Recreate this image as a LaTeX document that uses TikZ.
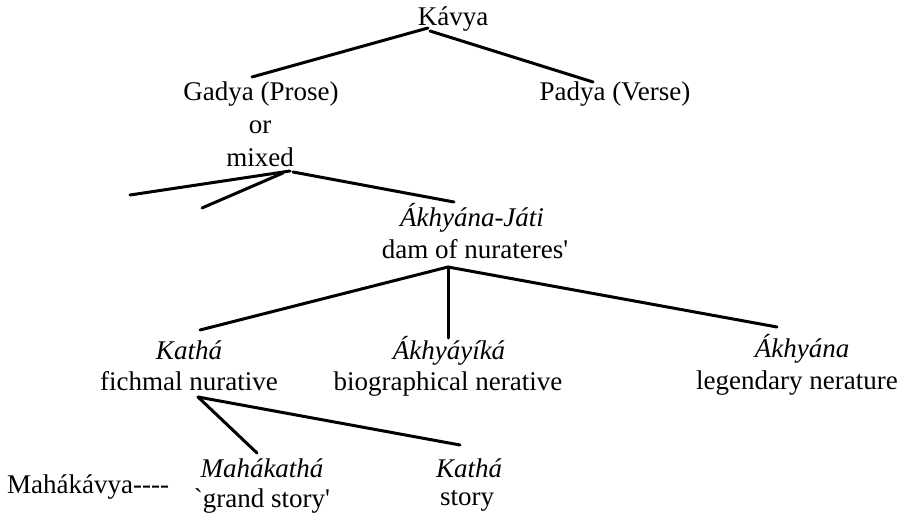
\documentclass[tikz,border=0pt]{standalone}
\usepackage{fontspec}
\setmainfont{Liberation Serif}
\begin{document}
\begin{tikzpicture}[x=1pt,y=-1pt,
  lbl/.style={inner sep=0pt,anchor=base,font=\fontsize{27}{31}\selectfont},
  branch/.style={line width=3pt,line cap=round}]
\useasboundingbox (0,0) rectangle (910,516);
\fill[white] (0,0) rectangle (910,516);
% nodes
\node[lbl] (kavya) at (453,26) {Kávya};
\node[lbl] (gadya) at (261,101) {Gadya (Prose)};
\node[lbl] (gor) at (260,134) {or};
\node[lbl] (gmixed) at (260,166) {mixed};
\node[lbl] (padya) at (615,101) {Padya (Verse)};
\node[lbl] (akhj) at (472,226) {\textit{Ákhyána-Játi}};
\node[lbl] (akhjd) at (475,258) {dam of nurateres\textquotesingle};
\node[lbl] (katha) at (189,359) {\textit{Kathá}};
\node[lbl] (kathad) at (189,390) {fichmal nurative};
\node[lbl] (akhy) at (449,359) {\textit{Ákhyáyíká}};
\node[lbl] (akhyd) at (448,390) {biographical nerative};
\node[lbl] (akhyana) at (802,357) {\textit{Ákhyána}};
\node[lbl] (akhyanad) at (797,389) {legendary nerature};
\node[lbl,anchor=base west] (mahak) at (7,493) {Mahákávya{-}{-}{-}{-}};
\node[lbl] (mahakatha) at (262,477) {\textit{Mahákathá}};
\node[lbl] (grand) at (262,507) {\textasciigrave grand story\textquotesingle};
\node[lbl] (kathas) at (469,477) {\textit{Kathá}};
\node[lbl] (story) at (467,505) {story};
% free ends
\coordinate (free1) at (130,195);
\coordinate (free2) at (202,208);
% connectors
\draw[branch] ([shift={(-25,2)}]kavya.base) -- ([shift={(-9,-24)}]gadya.base);
\draw[branch] ([shift={(-23,5)}]kavya.base) -- ([shift={(-22,-19)}]padya.base);
\draw[branch] ([shift={(30,5)}]gmixed.base) -- (free1);
\draw[branch] ([shift={(23,7)}]gmixed.base) -- (free2);
\draw[branch] ([shift={(33,6)}]gmixed.base) -- ([shift={(-18,-24)}]akhj.base);
\draw[branch] ([shift={(-27,9)}]akhjd.base) -- ([shift={(11,-29)}]katha.base);
\draw[branch] ([shift={(-27,9)}]akhjd.base) -- ([shift={(-1,-21)}]akhy.base);
\draw[branch] ([shift={(-27,9)}]akhjd.base) -- ([shift={(-25,-30)}]akhyana.base);
\draw[branch] ([shift={(9,7)}]kathad.base) -- ([shift={(-5,-24)}]mahakatha.base);
\draw[branch] ([shift={(9,7)}]kathad.base) -- ([shift={(-9,-32)}]kathas.base);
\end{tikzpicture}
\end{document}
